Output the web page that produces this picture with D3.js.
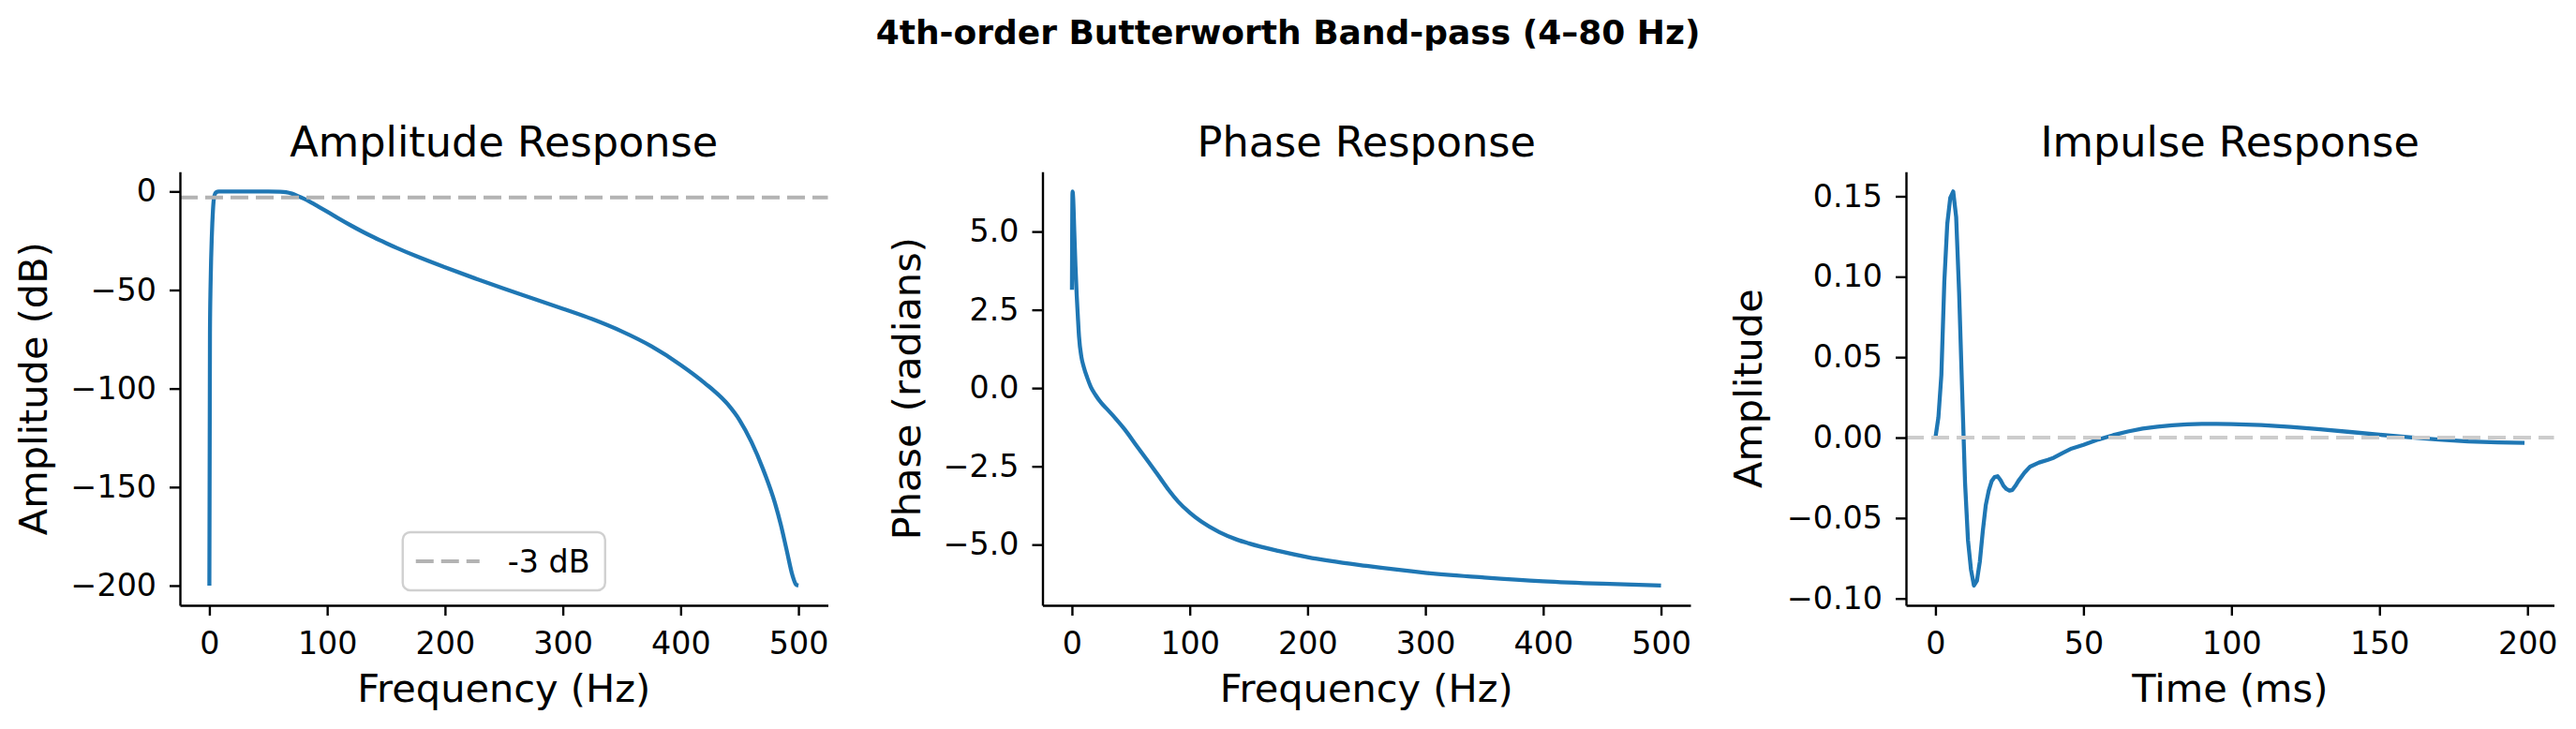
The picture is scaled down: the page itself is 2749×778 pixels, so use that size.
<!DOCTYPE html>
<html>
<head>
<meta charset="utf-8">
<script src="https://cdn.jsdelivr.net/npm/d3@7"></script>
<style>
  html, body { margin: 0; padding: 0; background: #fff; }
  svg { display: block; font-family: "DejaVu Sans", sans-serif; }
</style>
</head>
<body>
<div id="chart"></div>
<script>
// Butterworth band-pass figure: amplitude, phase, impulse response
// values

// amplitude response (dB) vs frequency (Hz)
const ampFreq = [0, 0.5, 1, 1.5, 2, 2.5, 3, 3.5, 4, 5, 6, 8, 10, 20, 40, 50, 60, 65, 70, 75, 80, 85, 90, 100,
  110, 120, 130, 140, 150, 160, 175, 200, 225, 250, 275, 300, 325, 350, 375, 400, 420, 440, 450, 460,
  470, 480, 485, 490, 495, 498, 500];
const ampDb = [-200, -72, -48, -34, -24, -16, -10, -5.5, -3, -1, -0.3, -0.05, 0, 0, 0, -0.02, -0.15, -0.4, -1.1, -2.3, -3.6, -5.1, -6.8, -10.2,
  -13.8, -17.2, -20.4, -23.4, -26.2, -28.9, -32.7, -38.5, -44, -49.3, -54.4, -59.5, -64.8, -71, -78.5, -88, -97, -108, -116, -127,
  -141, -158, -169, -182, -195, -199.5, -200];

// unwrapped phase (radians) vs frequency (Hz)
const phaseFreq = [0, 0.5, 1, 2, 3, 4, 5, 6, 8, 10, 13, 16, 20, 25, 30, 37, 45, 55, 65, 75, 82, 90, 100,
  110, 125, 140, 150, 175, 200, 250, 300, 350, 400, 450, 500];
const phaseRad = [3.14, 6.28, 6.1, 5.0, 3.9, 3.0, 2.3, 1.65, 1.0, 0.68, 0.33, 0.04, -0.22, -0.48, -0.68, -0.97, -1.33, -1.85, -2.36, -2.88, -3.25, -3.62, -3.98,
  -4.27, -4.6, -4.84, -4.96, -5.2, -5.4, -5.68, -5.9, -6.05, -6.17, -6.25, -6.31];

// impulse response vs time (ms)
const impTime = [0, 1, 2, 3, 4, 5, 6, 7, 8, 9, 10, 11, 12, 13, 14, 15, 16, 17, 18, 19, 20, 21, 22, 23, 24, 25, 26, 27, 28,
  30, 32, 35, 38, 40, 43, 46, 50, 55, 60, 65, 70, 75, 80, 85, 90, 95, 100, 110, 120, 130, 140, 150, 160, 170, 180, 190, 199];
const impAmp = [0, 0.0126, 0.039, 0.097, 0.133, 0.149, 0.153, 0.137, 0.09, 0.03, -0.028, -0.064, -0.082, -0.092, -0.089, -0.077, -0.058, -0.042, -0.033, -0.027, -0.0245, -0.024, -0.0265, -0.03, -0.032, -0.033, -0.0325, -0.030, -0.027,
  -0.022, -0.018, -0.0155, -0.0138, -0.0125, -0.0095, -0.0068, -0.0045, -0.0012, 0.0015, 0.0038, 0.0056, 0.0068, 0.0077, 0.0082, 0.0085, 0.0085, 0.0084, 0.0078, 0.0066, 0.0052, 0.0035, 0.0018, 0.0002, -0.0012, -0.0024, -0.003, -0.0033];

// tick values
const freqTicks = [0, 100, 200, 300, 400, 500];
const timeTicks = [0, 50, 100, 150, 200];
const ampTicks = [-200, -150, -100, -50, 0];
const phaseTicks = [-5, -2.5, 0, 2.5, 5];
const impTicks = [-0.10, -0.05, 0, 0.05, 0.10, 0.15];

// layout
const WIDTH = 2749, HEIGHT = 778;
const plotTop = 183.3, plotH = 462.7, plotW = 691.5;
const BLUE = "#1f77b4";

const svg = d3.select("#chart").append("svg")
  .attr("width", WIDTH)
  .attr("height", HEIGHT);

svg.append("text")
  .attr("x", WIDTH / 2)
  .attr("y", 47)
  .attr("text-anchor", "middle")
  .style("font-size", "36px")
  .style("font-weight", "bold")
  .text("4th-order Butterworth Band-pass (4–80 Hz)");

// matplotlib-like 5% padding
function padExtent(vals) {
  const [lo, hi] = d3.extent(vals);
  const m = (hi - lo) * 0.05;
  return [lo - m, hi + m];
}

const panels = [
  { left: 192, title: "Amplitude Response", xlab: "Frequency (Hz)", ylab: "Amplitude (dB)", ylabX: 50,
    xs: ampFreq, ys: ampDb, xTicks: freqTicks, yTicks: ampTicks, yFmt: d3.format("d"), curve: d3.curveMonotoneX,
    hline: { y: -3, color: "#b3b3b3" }, legend: "-3 dB" },
  { left: 1112.5, title: "Phase Response", xlab: "Frequency (Hz)", ylab: "Phase (radians)", ylabX: 982,
    xs: phaseFreq, ys: phaseRad, xTicks: freqTicks, yTicks: phaseTicks, yFmt: d3.format(".1f"), curve: d3.curveMonotoneX },
  { left: 2034, title: "Impulse Response", xlab: "Time (ms)", ylab: "Amplitude", ylabX: 1880,
    xs: impTime, ys: impAmp, xTicks: timeTicks, yTicks: impTicks, yFmt: d3.format(".2f"), curve: d3.curveLinear,
    hline: { y: 0, color: "#cccccc" } }
];

panels.forEach(p => {
  const g = svg.append("g").attr("transform", `translate(${p.left},${plotTop})`);

  const x = d3.scaleLinear().domain(padExtent(p.xs)).range([0, plotW]);
  const y = d3.scaleLinear().domain(padExtent(p.ys)).range([plotH, 0]);

  const pts = p.xs.map((v, i) => [v, p.ys[i]]);
  const line = d3.line().x(d => x(d[0])).y(d => y(d[1])).curve(p.curve);

  g.append("path")
    .datum(pts)
    .attr("d", line)
    .attr("fill", "none")
    .attr("stroke", BLUE)
    .attr("stroke-width", 4.3)
    .attr("stroke-linejoin", "round")
    .attr("stroke-linecap", "butt");

  if (p.hline) {
    g.append("line")
      .attr("x1", 0).attr("x2", plotW)
      .attr("y1", y(p.hline.y)).attr("y2", y(p.hline.y))
      .attr("stroke", p.hline.color)
      .attr("stroke-width", 4)
      .attr("stroke-dasharray", "19 8");
  }

  // axes
  const gx = g.append("g").attr("transform", `translate(0,${plotH})`)
    .call(d3.axisBottom(x).tickValues(p.xTicks).tickSize(11).tickSizeOuter(0).tickPadding(17).tickFormat(d3.format("d")));
  const gy = g.append("g")
    .call(d3.axisLeft(y).tickValues(p.yTicks).tickSize(11).tickSizeOuter(0).tickPadding(14).tickFormat(p.yFmt));

  [gx, gy].forEach(a => {
    a.select(".domain").attr("stroke", "#000").attr("stroke-width", 2.4);
    a.selectAll(".tick line").attr("stroke", "#000").attr("stroke-width", 2.4);
    a.selectAll(".tick text")
      .attr("fill", "#000")
      .style("font-family", "DejaVu Sans")
      .style("font-size", "33.3px");
  });

  // titles and labels
  svg.append("text")
    .attr("x", p.left + plotW / 2)
    .attr("y", 167)
    .attr("text-anchor", "middle")
    .style("font-size", "44.6px")
    .text(p.title);

  svg.append("text")
    .attr("x", p.left + plotW / 2)
    .attr("y", 749)
    .attr("text-anchor", "middle")
    .style("font-size", "41.5px")
    .text(p.xlab);

  svg.append("text")
    .attr("transform", `translate(${p.ylabX},${plotTop + plotH / 2}) rotate(-90)`)
    .attr("text-anchor", "middle")
    .style("font-size", "41.5px")
    .text(p.ylab);

  // legend (lower center)
  if (p.legend) {
    const lw = 216, lh = 62;
    const lg = g.append("g").attr("transform", `translate(${plotW / 2 - lw / 2},${plotH - 16 - lh})`);
    lg.append("rect")
      .attr("width", lw).attr("height", lh)
      .attr("rx", 8).attr("ry", 8)
      .attr("fill", "#fff").attr("fill-opacity", 0.8)
      .attr("stroke", "#d0d0d0").attr("stroke-width", 2.4);
    lg.append("line")
      .attr("x1", 14).attr("x2", 82)
      .attr("y1", lh / 2).attr("y2", lh / 2)
      .attr("stroke", p.hline.color)
      .attr("stroke-width", 4)
      .attr("stroke-dasharray", "19 8");
    lg.append("text")
      .attr("x", 112)
      .attr("y", lh / 2)
      .attr("dy", "0.35em")
      .style("font-size", "33.3px")
      .text(p.legend);
  }
});
</script>
</body>
</html>
